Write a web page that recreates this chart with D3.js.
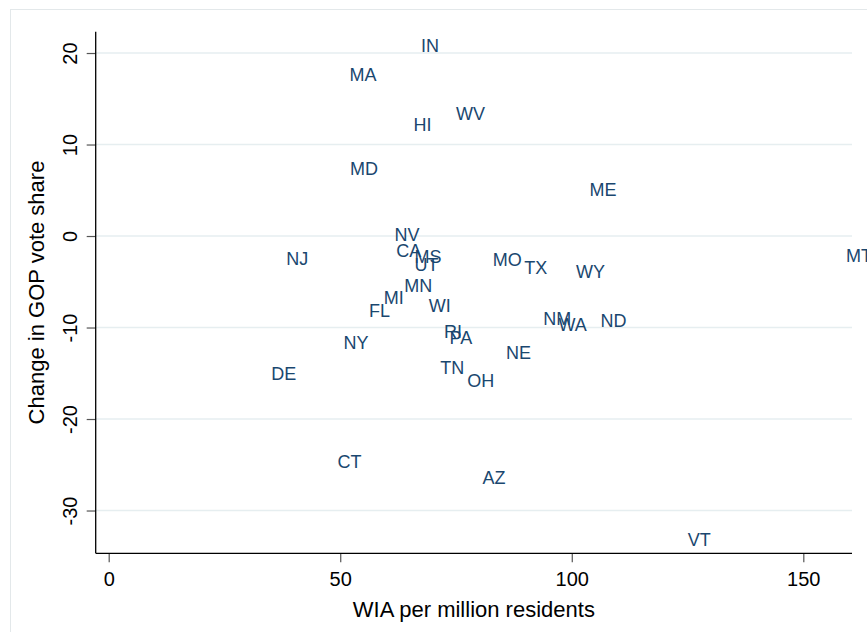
<!DOCTYPE html>
<html>
<head>
<meta charset="utf-8">
<script src="https://cdn.jsdelivr.net/npm/d3@7"></script>
<style>
  html, body { margin: 0; padding: 0; background: #fff; }
  svg { display: block; font-family: "Liberation Sans", Arial, Helvetica, sans-serif; }
</style>
</head>
<body>
<svg id="chart" width="867" height="632"></svg>
<script>
// State marker labels: WIA per million residents vs change in GOP vote share
const states = ["IN","MA","WV","HI","MD","ME","NV","CA","MS","UT","NJ","MO","TX","WY","MT",
                "MN","MI","FL","WI","NM","WA","ND","RI","PA","NY","NE","DE","TN","OH","CT","AZ","VT"];
const wiaPerMillion = [65.8, 50.4, 73.4, 64.2, 50.5, 102.2, 60.1, 60.5, 64.4, 64.4, 36.7, 81.3, 88.1, 99.3, 157.6,
                       62.2, 57.8, 54.6, 67.5, 92.2, 95.5, 104.6, 70.8, 72.0, 49.1, 84.2, 33.5, 70.0, 75.8, 47.8, 79.1, 123.4];
const gopChange = [20.8, 17.7, 13.4, 12.2, 7.4, 5.1, 0.15, -1.6, -2.2, -3.1, -2.5, -2.6, -3.4, -3.9, -2.1,
                   -5.4, -6.7, -8.1, -7.6, -9.0, -9.7, -9.2, -10.4, -11.1, -11.6, -12.7, -15.0, -14.4, -15.8, -24.6, -26.4, -33.2];
const xTicks = [0, 50, 100, 150];
const yTicks = [20, 10, 0, -10, -20, -30];
const xTitle = "WIA per million residents";
const yTitle = "Change in GOP vote share";

const svg = d3.select("#chart");

// plot region and inner margin
const plot = { left: 95.7, right: 852, top: 31.7, bottom: 553.3 };
const inner = 13.5;

const x = d3.scaleLinear()
  .domain([Math.min(0, d3.min(wiaPerMillion)), d3.max(wiaPerMillion)])
  .range([plot.left + 13, plot.right - inner]);
const y = d3.scaleLinear()
  .domain([d3.min(gopChange), d3.max(gopChange)])
  .range([plot.bottom - inner, plot.top + 14]);

// plain hyphen-minus tick labels
const plainFormat = d => String(d);

// outer graph region frame
svg.append("rect")
  .attr("x", 10.5).attr("y", 9.5)
  .attr("width", 900).attr("height", 700)
  .attr("fill", "none").attr("stroke", "#e3e8ea").attr("stroke-width", 1);

// horizontal gridlines
svg.append("g").selectAll("line").data(yTicks).join("line")
  .attr("x1", plot.left).attr("x2", plot.right)
  .attr("y1", d => y(d)).attr("y2", d => y(d))
  .attr("stroke", "#e6eef0").attr("stroke-width", 1.5);

// x axis
const xAxis = svg.append("g")
  .attr("transform", `translate(0,${plot.bottom})`)
  .call(d3.axisBottom(x).tickValues(xTicks).tickSize(9).tickFormat(plainFormat));
xAxis.select(".domain").remove();
xAxis.selectAll(".tick line").attr("stroke", "#555").attr("stroke-width", 1.2);
xAxis.selectAll(".tick text")
  .attr("y", 33.2).attr("dy", 0)
  .attr("fill", "#000").attr("font-size", 20)
  .style("font-family", "'Liberation Sans', Arial, sans-serif");

// y axis
const yAxis = svg.append("g")
  .attr("transform", `translate(${plot.left},0)`)
  .call(d3.axisLeft(y).tickValues(yTicks).tickSize(9).tickFormat(plainFormat));
yAxis.select(".domain").remove();
yAxis.selectAll(".tick line").attr("stroke", "#555").attr("stroke-width", 1.2);
yAxis.selectAll(".tick text")
  .attr("x", 0).attr("y", -18.4).attr("dy", 0)
  .attr("transform", "rotate(-90)")
  .attr("text-anchor", "middle")
  .attr("fill", "#000").attr("font-size", 20)
  .style("font-family", "'Liberation Sans', Arial, sans-serif");

// axis lines
svg.append("line")
  .attr("x1", plot.left).attr("x2", plot.left)
  .attr("y1", plot.top).attr("y2", plot.bottom)
  .attr("stroke", "#000").attr("stroke-width", 1.3);
svg.append("line")
  .attr("x1", plot.left).attr("x2", plot.right)
  .attr("y1", plot.bottom).attr("y2", plot.bottom)
  .attr("stroke", "#000").attr("stroke-width", 1.3);

// axis titles
svg.append("text")
  .attr("x", (plot.left + plot.right) / 2).attr("y", 617)
  .attr("text-anchor", "middle").attr("font-size", 22).attr("fill", "#000")
  .text(xTitle);
svg.append("text")
  .attr("transform", `translate(44,${(plot.top + plot.bottom) / 2}) rotate(-90)`)
  .attr("text-anchor", "middle").attr("font-size", 22).attr("fill", "#000")
  .text(yTitle);

// marker labels placed at 3 o'clock of each (invisible) point
const pts = states.map((s, i) => ({ s, x: wiaPerMillion[i], y: gopChange[i] }));
svg.append("g").selectAll("text").data(pts).join("text")
  .attr("x", d => x(d.x) + 7.5)
  .attr("y", d => y(d.y))
  .attr("dy", "0.36em")
  .attr("font-size", 18)
  .attr("fill", "#1a476f")
  .text(d => d.s);
</script>
</body>
</html>
